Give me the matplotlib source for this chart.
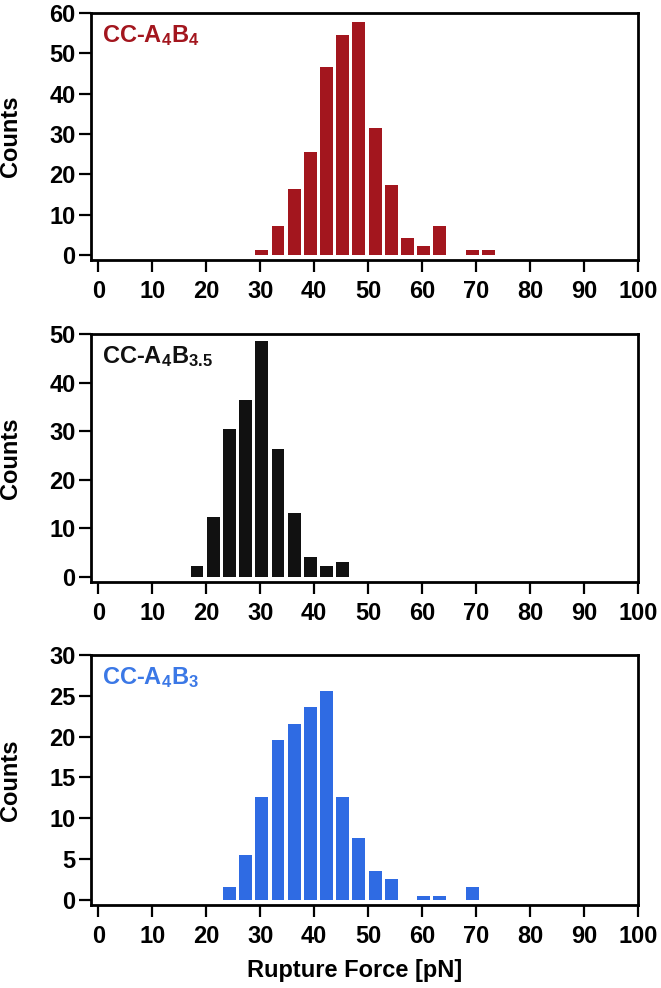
import numpy as np
import matplotlib
matplotlib.use("Agg")
import matplotlib.pyplot as plt

plt.rcParams['font.family'] = ['Liberation Sans', 'DejaVu Sans']
plt.rcParams['font.weight'] = 'bold'
plt.rcParams['mathtext.default'] = 'regular'

# bin centres (pN) and counts, 3 pN bins
centers_a4b4 = [30.3, 33.3, 36.3, 39.3, 42.3, 45.3, 48.3, 51.3, 54.3, 57.3, 60.3, 63.3, 66.3, 69.3, 72.3]
counts_a4b4 = [1.2, 7.3, 16.3, 25.5, 46.6, 54.6, 57.7, 31.5, 17.4, 4.2, 2.2, 7.3, 0, 1.2, 1.2]

centers_a4b35 = [18.3, 21.3, 24.3, 27.3, 30.3, 33.3, 36.3, 39.3, 42.3, 45.3]
counts_a4b35 = [2.2, 12.3, 30.5, 36.5, 48.6, 26.3, 13.2, 4.1, 2.2, 3.1]

centers_a4b3 = [24.3, 27.3, 30.3, 33.3, 36.3, 39.3, 42.3, 45.3, 48.3, 51.3, 54.3, 57.3, 60.3, 63.3, 66.3, 69.3]
counts_a4b3 = [1.5, 5.5, 12.6, 19.6, 21.5, 23.6, 25.6, 12.6, 7.6, 3.5, 2.5, 0, 0.5, 0.5, 0, 1.5]

labels = [r'CC-A$_4$B$_4$', r'CC-A$_4$B$_{3.5}$', r'CC-A$_4$B$_3$']
bar_colors = ['#A3161E', '#111111', '#2F6BE3']
text_colors = ['#A3161E', '#111111', '#3B78E6']
ymax = [60, 50, 30]
ystep = [10, 10, 5]
ybottom = [-1.25, -1.05, -0.65]
xticks = np.arange(0, 101, 10)

panels = [(centers_a4b4, counts_a4b4), (centers_a4b35, counts_a4b35), (centers_a4b3, counts_a4b3)]
# axes rectangles in figure fraction (left, bottom, width, height)
rects = [(0.1372, 0.7368, 0.828, 0.250),
         (0.1372, 0.4109, 0.828, 0.251),
         (0.1372, 0.0840, 0.828, 0.253)]
fs = 17

fig = plt.figure(figsize=(6.61, 9.88), dpi=100)

for i, (cx, cy) in enumerate(panels):
    ax = fig.add_axes(rects[i])
    ax.bar(cx, cy, width=2.4, color=bar_colors[i], edgecolor='none')
    ax.set_xlim(-1.4, 100)
    ax.set_ylim(ybottom[i], ymax[i])
    ax.set_xticks(xticks)
    ax.set_yticks(np.arange(0, ymax[i] + 1, ystep[i]))
    for s in ax.spines.values():
        s.set_linewidth(2)
    ax.tick_params(direction='out', length=8.5, width=1.6, labelsize=fs)
    ax.tick_params(axis='x', pad=6)
    ax.tick_params(axis='y', pad=2.5)
    for t in ax.get_xticklabels() + ax.get_yticklabels():
        t.set_fontweight('bold')
    ax.set_ylabel('Counts', fontsize=fs, fontweight='bold')
    ax.yaxis.set_label_coords(-0.126, 0.5)
    ax.text(0.02, 0.96, labels[i], transform=ax.transAxes, ha='left', va='top',
            fontsize=fs, fontweight='bold', color=text_colors[i])
    if i == 2:
        ax.set_xlabel('Rupture Force [pN]', fontsize=fs, fontweight='bold')
        ax.xaxis.set_label_coords(0.483, -0.215)

fig.savefig('out.png', dpi=100)
